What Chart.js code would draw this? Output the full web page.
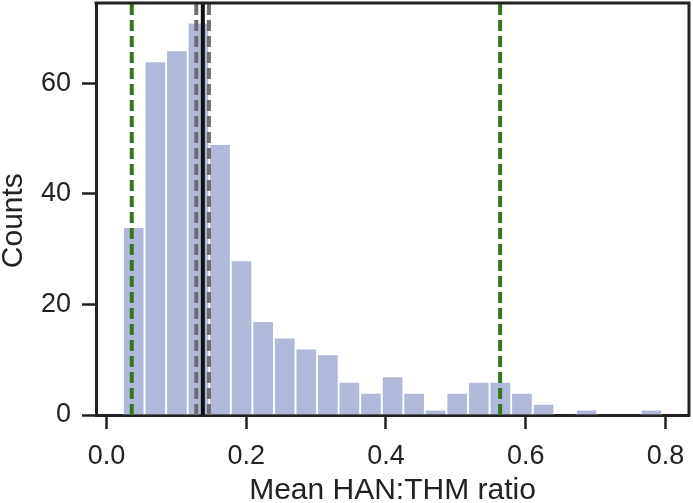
<!DOCTYPE html>
<html lang="en">
<head>
  <meta charset="UTF-8">
  <title>Mean HAN:THM ratio histogram</title>
  <script src="https://cdn.jsdelivr.net/npm/chart.js"></script>
  <style>
    body { margin: 0; background: #fff; }
    .chart-box { width: 693px; height: 503px; }
  </style>
</head>
<body>
  <div class="chart-box">
    <canvas id="histChart"></canvas>
  </div>

  <script>
    // histogram bins (centres) and counts
    const binCenters = [0.0391, 0.0700, 0.1009, 0.1317, 0.1626, 0.1934, 0.2243, 0.2552, 0.2860,
                        0.3169, 0.3477, 0.3786, 0.4095, 0.4403, 0.4712, 0.5020, 0.5329, 0.5638,
                        0.5946, 0.6255, 0.6563, 0.6872, 0.7181, 0.7489, 0.7798];
    const counts = [34, 64, 66, 71, 49, 28, 17, 14, 12, 11, 6, 4, 7, 4, 1, 4, 6, 6, 4, 2, 0, 1, 0, 0, 1];

    // reference lines
    const greenLines = [0.0363, 0.5634];
    const greyLines = [0.1286, 0.1467];
    const blackLines = [0.138];

    const xTicks = [0, 0.2, 0.4, 0.6, 0.8];
    const yTicks = [0, 20, 40, 60];
    const xRange = [-0.0149, 0.8337];
    const yRange = [0, 74.55];

    const ink = '#222';
    const fontFamily = "'Liberation Sans', Arial, Helvetica, sans-serif";

    function vline(x, color, dash) {
      return {
        type: 'line',
        data: [{ x: x, y: yRange[0] }, { x: x, y: yRange[1] }],
        borderColor: color,
        borderWidth: 4,
        borderDash: dash,
        borderCapStyle: 'butt',
        pointRadius: 0,
        fill: false,
        order: 1
      };
    }

    // top and right spines
    const frame = {
      id: 'frame',
      afterDraw(chart) {
        const { ctx, chartArea: { left, top, right, bottom } } = chart;
        ctx.save();
        ctx.strokeStyle = ink;
        ctx.lineWidth = 3;
        ctx.lineCap = 'square';
        ctx.beginPath();
        ctx.moveTo(left, top);
        ctx.lineTo(right, top);
        ctx.lineTo(right, bottom);
        ctx.stroke();
        ctx.restore();
      }
    };

    const datasets = [{
      type: 'bar',
      data: binCenters.map((x, i) => ({ x: x, y: counts[i] })),
      backgroundColor: '#b0b9d9',
      borderColor: '#ffffff',
      borderWidth: 1.25,
      barPercentage: 1,
      categoryPercentage: 1,
      order: 2
    }];
    greyLines.forEach(x => datasets.push(vline(x, '#6e6e6e', [11, 5])));
    blackLines.forEach(x => datasets.push(vline(x, '#111', [])));
    greenLines.forEach(x => datasets.push(vline(x, '#38761d', [11, 5])));

    const ctx = document.getElementById('histChart').getContext('2d');
    new Chart(ctx, {
      type: 'bar',
      data: { datasets: datasets },
      plugins: [frame],
      options: {
        responsive: true,
        maintainAspectRatio: false,
        animation: false,
        layout: { padding: { top: 3, right: 4, left: 0, bottom: 0 } },
        plugins: { legend: { display: false }, tooltip: { enabled: false } },
        scales: {
          x: {
            type: 'linear',
            min: xRange[0],
            max: xRange[1],
            offset: false,
            z: 1,
            grid: { offset: false, drawOnChartArea: false, drawTicks: true, tickLength: 14, tickWidth: 2.5, tickColor: ink },
            border: { display: true, width: 3, color: ink },
            afterBuildTicks: s => { s.ticks = xTicks.map(v => ({ value: v })); },
            afterFit: s => { s.height = 88; s.paddingLeft = 0; s.paddingRight = 0; },
            ticks: {
              autoSkip: false,
              maxRotation: 0,
              padding: 11,
              color: ink,
              font: { family: fontFamily, size: 27 },
              callback: v => Number(v).toFixed(1)
            },
            title: {
              display: true,
              text: 'Mean HAN:THM ratio',
              color: ink,
              padding: 0,
              font: { family: fontFamily, size: 30, lineHeight: 0.85 }
            }
          },
          y: {
            min: yRange[0],
            max: yRange[1],
            z: 1,
            grid: { drawOnChartArea: false, drawTicks: true, tickLength: 14, tickWidth: 2.5, tickColor: ink },
            border: { display: true, width: 3, color: ink },
            afterBuildTicks: s => { s.ticks = yTicks.map(v => ({ value: v })); },
            afterFit: s => { s.width = 96; s.paddingTop = 0; s.paddingBottom = 0; },
            ticks: {
              padding: 11,
              color: ink,
              font: { family: fontFamily, size: 27 }
            },
            title: {
              display: true,
              // trailing spaces nudge the rotated label down to where the reference has it
              text: 'Counts\u2002 ',
              color: ink,
              padding: 0,
              font: { family: fontFamily, size: 30, lineHeight: 0.9 }
            }
          }
        }
      }
    });
  </script>
</body>
</html>
